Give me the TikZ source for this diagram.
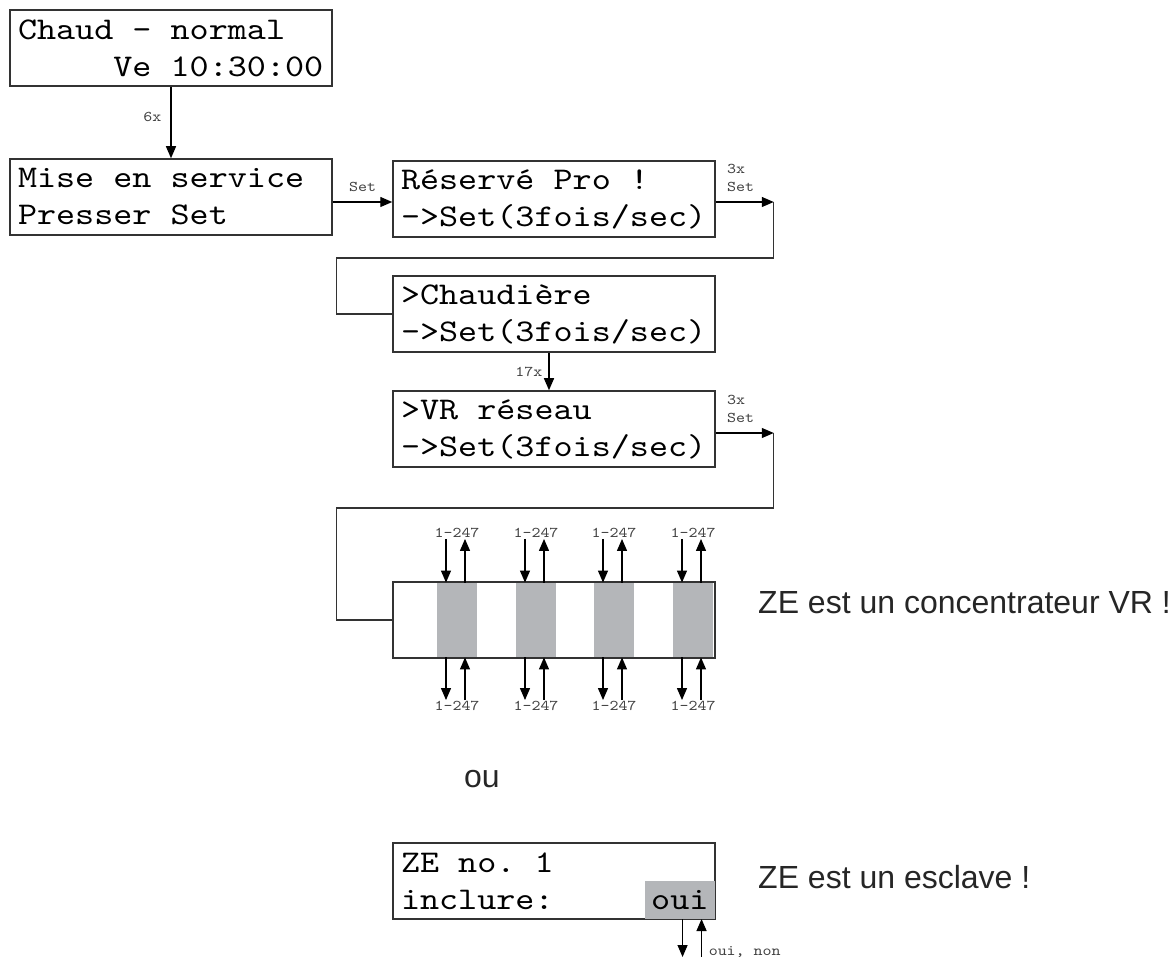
\documentclass[tikz,border=0pt]{standalone}
\usepackage{fontspec}
\setmainfont{Liberation Sans}
\setsansfont{Liberation Sans}
\newfontfamily\lcdfamily{lmmono10-regular.otf}[FakeStretch=1.15]
\usetikzlibrary{arrows.meta,positioning,calc}
\definecolor{lcdline}{HTML}{333333}
\definecolor{lcdgray}{HTML}{B4B6B9}
\newcommand\lcdfont{\lcdfamily\fontsize{31.6}{37}\selectfont\frenchspacing}
\newcommand\tinyfont{\lcdfamily\fontsize{14.9}{18}\selectfont\frenchspacing}
\newcommand\notefont{\sffamily\fontsize{32}{38}\selectfont}
\tikzset{
  lcdbox/.style={draw=lcdline,line width=1.5pt,minimum width=322pt,minimum height=76pt,text width=306pt,inner xsep=8pt,inner ysep=0pt,align=left,font=\lcdfont,
    execute at begin node={\spaceskip=19.08pt\relax\xspaceskip=19.08pt\relax}},
  selbox/.style={fill=lcdgray,inner sep=0pt,minimum width=70pt,minimum height=38pt,font=\lcdfont},
  barbox/.style={fill=lcdgray,inner sep=0pt,minimum width=40pt,minimum height=74.5pt},
  small/.style={font=\tinyfont,inner sep=1pt,text=black!75},
  note/.style={font=\notefont,anchor=west,inner sep=0pt,text=black!85},
  flow/.style={-{Triangle[length=12pt,width=10pt]},line width=1.3pt},
  wire/.style={line width=1.3pt,draw=lcdline}
}

\begin{document}
\begin{tikzpicture}[x=1pt,y=-1pt]
  \useasboundingbox (0,0) rectangle (1176,957);

  \node[lcdbox] (chaud) at (171,48) {Chaud - normal\\~~~~~Ve~10:30:00};
  \node[lcdbox] (mise) at (171,197) {Mise en service\\Presser Set};
  \node[lcdbox] (pro) at (554,199) {Réservé Pro !\\->Set(3fois/sec)};
  \node[lcdbox] (chaudiere) at (554,314) {>Chaudière\\->Set(3fois/sec)};
  \node[lcdbox] (vr) at (554,429) {>VR réseau\\->Set(3fois/sec)};
  \node[lcdbox] (conc) at (554,620) {};
  \node[lcdbox] (slave) at (554,881) {ZE no. 1\\inclure:};
  \node[selbox,anchor=south east] (oui) at ([xshift=-0.75pt,yshift=0.75pt]slave.south east) {oui};

  \draw[flow] (chaud) -- node[small,left=8pt,pos=0.42] {6x} (mise);
  \draw[flow] ([yshift=-5pt]mise.east) -- node[small,above=9pt] {Set} ([yshift=-5pt]mise.east -| pro.west);

  \draw[flow] ([yshift=-3pt]pro.east) -- ++(58,0) node[small,pos=0.43,above=9pt,align=left] {3x\\Set} coordinate (prodrop);
  \draw[wire] (prodrop) -- ++(0,56) -| ($(chaudiere.west)+(-56,0)$) -- (chaudiere.west);

  \draw[flow] ([xshift=-5pt]chaudiere.south) -- node[small,left=5pt] {17x} ([xshift=-5pt]vr.north);

  \draw[flow] ([yshift=-4pt]vr.east) -- ++(58,0) node[small,pos=0.43,above=9pt,align=left] {3x\\Set} coordinate (vrdrop);
  \draw[wire] (vrdrop) -- ++(0,75) -| ($(conc.west)+(-56,0)$) -- (conc.west);

  % concentrator channels
  \foreach \x [count=\i] in {457,536,614,693} {
    \node[barbox] (bar\i) at (\x,620) {};
    \node[small] (top\i) at (\x,533) {1-247};
    \node[small] (bot\i) at (\x,706) {1-247};
    \draw[flow] ([xshift=-11pt]top\i.south) -- ([xshift=-11pt]bar\i.north);
    \draw[flow] ([xshift=8pt]bar\i.north) -- ([xshift=8pt]top\i.south);
    \draw[flow] ([xshift=-11pt]bar\i.south) -- ([xshift=-11pt]bot\i.north);
    \draw[flow] ([xshift=8pt]bot\i.north) -- ([xshift=8pt]bar\i.south);
  }

  \node[note] (vrnote) at (758,603) {ZE est un concentrateur VR !};
  \node[note] (ou) at (464,779) {ou};
  \node[note] (slavenote) at (758,877) {ZE est un esclave !};

  \path ([xshift=2.75pt]oui.south) ++(0,38) coordinate (seldn);
  \path ([xshift=21.75pt]oui.south) ++(0,38) coordinate (selup);
  \draw[flow] ([xshift=2.75pt]oui.south) -- (seldn);
  \draw[flow] (selup) -- ([xshift=21.75pt]oui.south);
  \node[small,anchor=base west] (yesno) at ([xshift=6pt,yshift=1.5pt]selup) {oui, non};
\end{tikzpicture}
\end{document}
